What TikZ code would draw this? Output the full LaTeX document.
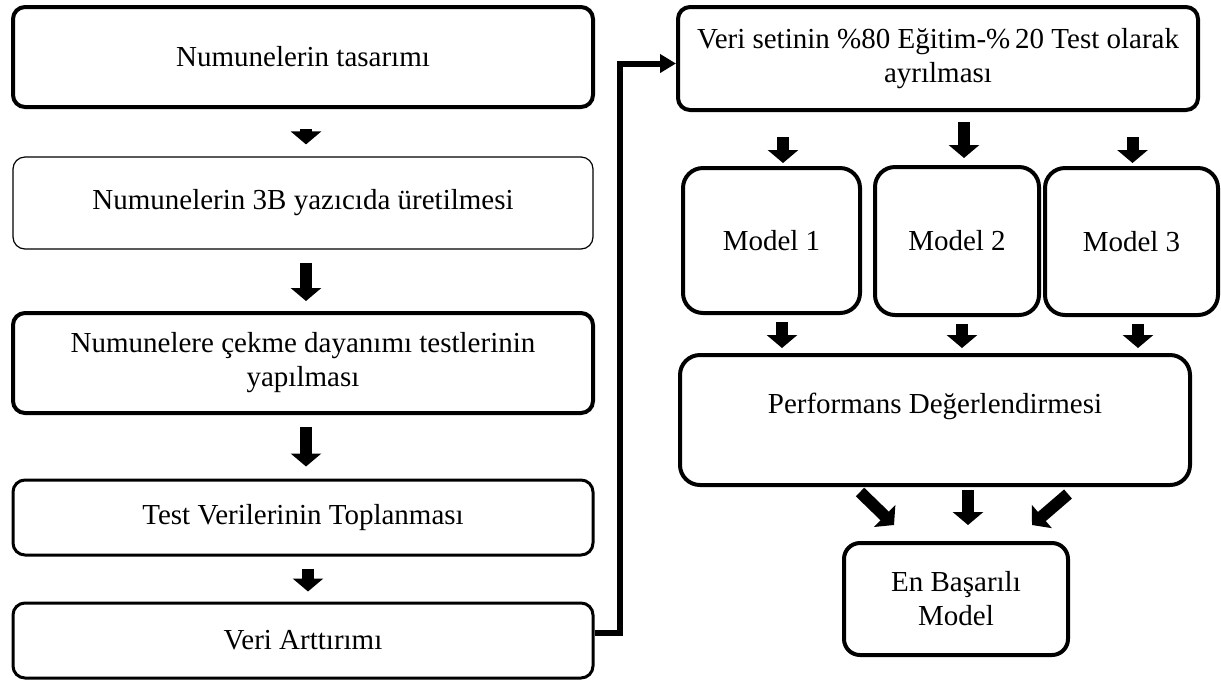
\documentclass[tikz,border=0pt]{standalone}
\usepackage{fontspec}
\setmainfont{Liberation Serif}
\usetikzlibrary{arrows.meta}
\tikzset{
	stepbox/.style={draw, line width=1.5pt, rounded corners=6pt, align=center, inner sep=2pt, font=\fontsize{14.5}{17}\selectfont},
	thickbox/.style={stepbox, line width=2pt},
	modelbox/.style={thickbox, rounded corners=10pt},
	blockarrow/.style={line width=6pt, -{Triangle[width=15pt,length=6.5pt]}},
	link/.style={line width=3pt, -{Triangle[width=9pt,length=8pt]}},
}
\begin{document}
\begin{tikzpicture}
	\useasboundingbox (0,0) rectangle (610.5pt,-341pt);
	% sol sutun
	\node[thickbox, minimum width=290pt, minimum height=50pt] (tasarim) at (151.5pt,-28.5pt) {Numunelerin tasarımı};
	\node[stepbox, line width=0.6pt, minimum width=290pt, minimum height=46pt] (uretim) at (151.5pt,-101.5pt) {Numunelerin 3B yazıcıda üretilmesi};
	\node[thickbox, minimum width=290pt, minimum height=50pt] (cekme) at (151.5pt,-181.5pt) {Numunelere çekme dayanımı testlerinin\\yapılması};
	\node[stepbox, minimum width=290pt, minimum height=37.5pt] (toplama) at (151.5pt,-258.75pt) {Test Verilerinin Toplanması};
	\node[stepbox, minimum width=290pt, minimum height=37.5pt] (artirim) at (151.5pt,-320.25pt) {Veri Arttırımı};
	% sag sutun
	\node[thickbox, minimum width=260pt, minimum height=51.5pt] (ayirma) at (469pt,-29.25pt) {Veri setinin \%80 Eğitim-\%\,20 Test olarak\\ayrılması};
	\node[modelbox, minimum width=88.5pt, minimum height=72.5pt] (model1) at (385.75pt,-120.25pt) {Model 1};
	\node[modelbox, minimum width=82pt, minimum height=74pt] (model2) at (478.5pt,-120.5pt) {Model 2};
	\node[modelbox, minimum width=86.5pt, minimum height=73.5pt] (model3) at (565.75pt,-120.75pt) {Model 3};
	\node[modelbox, minimum width=255pt, minimum height=65pt] (perf) at (467.5pt,-210pt) {Performans Değerlendirmesi\\\mbox{}};
	\node[thickbox, rounded corners=8pt, minimum width=112pt, minimum height=56pt] (eniyi) at (478pt,-299.5pt) {En Başarılı\\Model};
	% oklar
	\draw[blockarrow] ([xshift=1.5pt,yshift=-10pt]tasarim.south) -- ([xshift=1.5pt,yshift=6pt]uretim.north);
	\draw[blockarrow] ([xshift=1.5pt,yshift=-6.5pt]uretim.south) -- ([xshift=1.5pt,yshift=5pt]cekme.north);
	\draw[blockarrow] ([xshift=1.5pt,yshift=-6pt]cekme.south) -- ([xshift=1.5pt,yshift=6pt]toplama.north);
	\draw[blockarrow] ([xshift=2.5pt,yshift=-6pt]toplama.south) -- ([xshift=2.5pt,yshift=5pt]artirim.north);
	\draw[link] ([yshift=3.75pt]artirim.east) -- ++(12.5pt,0) |- ([yshift=-2.5pt]ayirma.west);
	\draw[blockarrow] ([xshift=5.75pt,yshift=-12.5pt]ayirma.south -| model1.north) -- ([xshift=5.75pt,yshift=1.5pt]model1.north);
	\draw[blockarrow] ([xshift=3.5pt,yshift=-5pt]ayirma.south -| model2.north) -- ([xshift=3.5pt,yshift=3.5pt]model2.north);
	\draw[blockarrow] ([xshift=0.5pt,yshift=-12.5pt]ayirma.south -| model3.north) -- ([xshift=0.5pt,yshift=1.5pt]model3.north);
	\draw[blockarrow] ([xshift=5.25pt,yshift=-3.5pt]model1.south) -- ([xshift=5.25pt,yshift=2.5pt]model1.south |- perf.north);
	\draw[blockarrow] ([xshift=2.5pt,yshift=-3.5pt]model2.south) -- ([xshift=2.5pt,yshift=2.5pt]model2.south |- perf.north);
	\draw[blockarrow] ([xshift=3.25pt,yshift=-3.5pt]model3.south) -- ([xshift=3.25pt,yshift=2.5pt]model3.south |- perf.north);
	\draw[blockarrow] ([xshift=-37.5pt,yshift=-2.5pt]perf.south) -- ([xshift=-31pt,yshift=8pt]eniyi.north);
	\draw[blockarrow] ([xshift=16.5pt,yshift=-1.5pt]perf.south) -- ([xshift=6pt,yshift=8pt]eniyi.north);
	\draw[blockarrow] ([xshift=66.5pt,yshift=-3.5pt]perf.south) -- ([xshift=38pt,yshift=8pt]eniyi.north);
\end{tikzpicture}
\end{document}
